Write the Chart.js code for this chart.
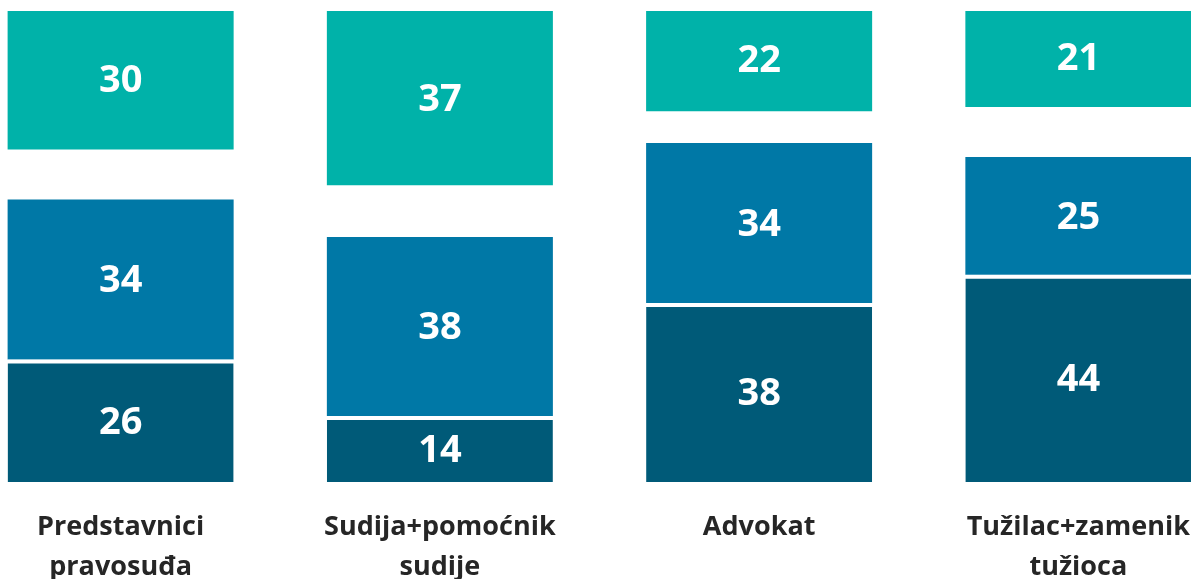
<!DOCTYPE html>
<html>
<head>
<meta charset="utf-8">
<script src="https://cdn.jsdelivr.net/npm/chart.js@4/dist/chart.umd.min.js"></script>
<style>
  html, body { margin: 0; padding: 0; background: #fff; overflow: hidden; width: 1191px; height: 579px; }
  #wrap { position: absolute; left: -39px; top: 0; width: 1277px; height: 579px; }
</style>
</head>
<body>
<div id="wrap"><canvas id="c"></canvas></div>
<script>
const categories = [["Predstavnici", "pravosuđa"], ["Sudija+pomoćnik", "sudije"], ["Advokat"], ["Tužilac+zamenik", "tužioca"]];
const seriesDark = [26, 14, 38, 44];
const seriesBlue = [34, 38, 34, 25];
const seriesGap = [10.6, 11, 6.7, 10.6];
const seriesTeal = [30, 37, 22, 21];

const FONT = "'Open Sans', 'Noto Sans', sans-serif";

const labelPlugin = {
  id: 'labels',
  afterDatasetsDraw(chart) {
    const ctx = chart.ctx;
    ctx.save();
    ctx.fillStyle = '#ffffff';
    ctx.font = "bold 38px " + FONT;
    ctx.textAlign = 'center';
    ctx.textBaseline = 'middle';
    chart.data.datasets.forEach((ds, di) => {
      if (!ds.showLabel) return;
      const meta = chart.getDatasetMeta(di);
      meta.data.forEach((bar, i) => {
        const p = bar.getProps(['x', 'y', 'base'], true);
        ctx.fillText(String(ds.data[i]), p.x, (p.y + p.base) / 2 + 2);
      });
    });
    const xs = chart.scales.x;
    ctx.fillStyle = '#262626';
    ctx.font = "bold 27px " + FONT;
    categories.forEach((lines, i) => {
      const x = xs.getPixelForValue(i);
      lines.forEach((t, j) => {
        ctx.fillText(t, x, chart.chartArea.bottom + 45 + j * 40);
      });
    });
    ctx.restore();
  }
};

new Chart(document.getElementById('c'), {
  type: 'bar',
  data: {
    labels: categories.map(c => c.join(' ')),
    datasets: [
      { data: seriesDark, backgroundColor: '#005a78', borderColor: '#ffffff', borderWidth: { top: 4 }, borderSkipped: false, showLabel: true },
      { data: seriesBlue, backgroundColor: '#0078a6', borderWidth: 0, showLabel: true },
      { data: seriesGap, backgroundColor: 'rgba(255,255,255,0)', borderWidth: 0, showLabel: false },
      { data: seriesTeal, backgroundColor: '#00b2a9', borderWidth: 0, showLabel: true }
    ]
  },
  options: {
    responsive: true,
    maintainAspectRatio: false,
    animation: false,
    layout: { padding: { top: 11, bottom: 97, left: 0, right: 0 } },
    plugins: { legend: { display: false }, tooltip: { enabled: false } },
    datasets: { bar: { categoryPercentage: 1, barPercentage: 0.708 } },
    scales: {
      x: { stacked: true, display: false },
      y: { stacked: true, display: false, min: 0, max: 100 }
    }
  },
  plugins: [labelPlugin]
});
</script>
</body>
</html>
